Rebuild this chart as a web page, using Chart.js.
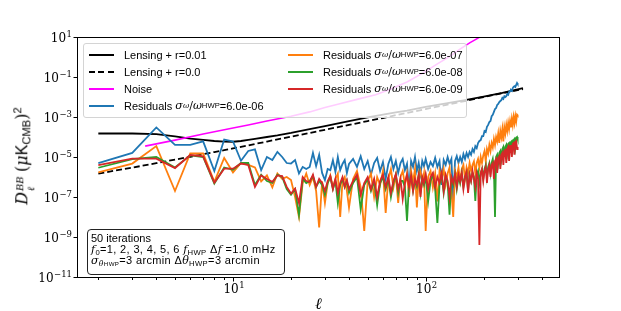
<!DOCTYPE html>
<html>
<head>
<meta charset="utf-8">
<script src="https://cdn.jsdelivr.net/npm/chart.js@4.4.0/dist/chart.umd.min.js"></script>
<style>
  body { margin: 0; background: #fff; }
  #wrap { position: relative; width: 621px; height: 311px; overflow: hidden; }
  #chart { position: absolute; left: 0; top: 0; }
  .math { font-family: "DejaVu Serif", serif; font-style: italic; }
  .legend {
    position: absolute; left: 83px; top: 43px; width: 382px; height: 73px;
    background: rgba(255,255,255,0.8); border: 1px solid #d4d4d4; border-radius: 3px;
    font-family: "Liberation Sans", sans-serif; font-size: 11px; color: #000;
  }
  .legend .item { position: absolute; height: 17px; display: flex; align-items: center; white-space: nowrap; }
  .legend .h { display: inline-block; width: 25px; height: 2px; margin-right: 10px; }
  sub { font-size: 0.7em; vertical-align: -0.3em; line-height: 0; }
  sup { font-size: 0.7em; vertical-align: 0.5em; line-height: 0; }
  .info {
    position: absolute; left: 87px; top: 229px; width: 193px; height: 41px;
    background: rgba(255,255,255,0.8); border: 1px solid #222; border-radius: 4px;
    font-family: "Liberation Sans", sans-serif; font-size: 11px; line-height: 11px;
    padding: 3px 0 0 3px; white-space: nowrap; color: #000;
  }
  .info .wide { letter-spacing: 0.35px; }
  .ylabel {
    position: absolute; left: 25px; top: 156px; transform: translate(-50%, -50%) rotate(-90deg);
    white-space: nowrap; font-family: "Liberation Sans", sans-serif; font-size: 16px; color: #000;
  }
  .stack { display: inline-flex; flex-direction: column; font-size: 0.62em; line-height: 1.2; vertical-align: 0.45em; margin-left: 1px; }
  .xlabel {
    position: absolute; left: 315px; top: 294px; font-family: "DejaVu Serif", serif;
    font-style: italic; font-size: 16px; color: #000;
  }
</style>
</head>
<body>
<div id="wrap">
  <canvas id="chart" width="621" height="311"></canvas>

  <div class="legend">
    <div class="item" style="left:5px;top:2px"><span class="h" style="background:#000"></span>Lensing + r=0.01</div>
    <div class="item" style="left:5px;top:19px"><span class="h" style="background:repeating-linear-gradient(90deg,#000 0 6px,transparent 6px 9.5px)"></span>Lensing + r=0.0</div>
    <div class="item" style="left:5px;top:36px"><span class="h" style="background:#ff00ff"></span>Noise</div>
    <div class="item" style="left:5px;top:53px"><span class="h" style="background:#1f77b4"></span>Residuals&nbsp;<span class="math">σ</span><sub class="math">ω</sub><span class="math" style="font-style:normal">/</span><span class="math">ω</span><sub>HWP</sub>=6.0e-06</div>
    <div class="item" style="left:204px;top:2px"><span class="h" style="background:#ff7f0e"></span>Residuals&nbsp;<span class="math">σ</span><sub class="math">ω</sub><span class="math" style="font-style:normal">/</span><span class="math">ω</span><sub>HWP</sub>=6.0e-07</div>
    <div class="item" style="left:204px;top:19px"><span class="h" style="background:#2ca02c"></span>Residuals&nbsp;<span class="math">σ</span><sub class="math">ω</sub><span class="math" style="font-style:normal">/</span><span class="math">ω</span><sub>HWP</sub>=6.0e-08</div>
    <div class="item" style="left:204px;top:36px"><span class="h" style="background:#d62728"></span>Residuals&nbsp;<span class="math">σ</span><sub class="math">ω</sub><span class="math" style="font-style:normal">/</span><span class="math">ω</span><sub>HWP</sub>=6.0e-09</div>
  </div>

  <div class="info">
    <div>50 iterations</div>
    <div class="wide"><span class="math">f</span><sub>0</sub>=1, 2, 3, 4, 5, 6 <span class="math">f</span><sub>HWP</sub> Δ<span class="math">f</span> =1.0 mHz</div>
    <div class="wide"><span class="math">σ</span><sub><span class="math">θ</span><span style="font-size:0.8em">HWP</span></sub>=3 arcmin Δ<span class="math">θ</span><sub>HWP</sub>=3 arcmin</div>
  </div>

  <div class="ylabel"><span class="math">D</span><span class="stack"><span class="math">BB</span><span class="math">ℓ</span></span> <span class="math" style="font-style:normal">(</span><span class="math">μ</span>K<sub>CMB</sub><span class="math" style="font-style:normal">)</span><sup>2</sup></div>
  <div class="xlabel">ℓ</div>
</div>

<script>
// multipoles of the residual spectra
const ells = [2,3,4,5,6,7,8,9,10,11,12,13,14,15,16,17,18,19,20,21,22,23,24,25,26,27,28,29,30,31,32,33,34,35,36,37,38,39,40,
  42,44,46,48,50,52,54,56,58,60,62,64,66,68,70,72,74,76,78,80,82,84,86,88,90,92,94,96,98,100,
  103,106,109,112,115,118,121,124,127,130,133,136,139,142,145,148,151,154,157,160,163,166,169,172,175,178,181,184,187,190,
  193,196,199,202,205,208,211,214,217,220,223,226,229,232,235,238,241,244,247,250,253,256,259,262,265,268,271,274,277,280,
  283,286,289,292,295,298,300];

// residuals sigma_w/w_HWP = 6.0e-06
const resid6 = [5e-6,1.6e-5,3e-4,4e-5,4e-5,6e-5,2e-6,7.5e-5,6e-5,6.5e-6,2e-5,2.4e-5,2.2e-6,1e-5,7e-6,1.8e-5,1e-5,5e-6,4.7e-6,7e-6,
  1.5e-6,3.2e-6,2.5e-6,3.2e-6,1.6e-5,3.5e-6,1.3e-5,1.6e-6,7e-7,2.5e-6,2.2e-6,7e-6,1.8e-6,1e-5,2.2e-6,4.5e-6,7e-6,1.6e-6,4.5e-6,
  8e-6,3.2e-6,1.1e-5,2.5e-6,6.3e-6,1.3e-6,5e-6,9e-6,2e-6,5.6e-6,8e-7,4.5e-6,1e-5,2.5e-6,6.3e-6,1.6e-6,5e-6,8e-6,2.2e-6,4.5e-6,
  2.5e-7,6.3e-6,3.2e-6,1e-5,2e-6,5e-6,1.4e-6,6.3e-6,3.5e-6,8e-6,
  2.5e-6,5.6e-6,3.5e-6,9e-6,3.2e-6,6.3e-6,4e-7,7e-6,4e-6,1e-5,4.5e-6,8e-6,6e-8,6.3e-6,1.1e-5,5e-6,1e-5,5.6e-6,1.4e-5,8e-6,
  1.6e-5,1e-5,1.8e-5,1.3e-5,2.5e-5,1.8e-5,3.5e-5,2.8e-5,5e-5,6.3e-5,
  7e-5,1.1e-4,1.1e-4,2e-4,1.8e-4,3.2e-4,4e-4,5.6e-4,6.3e-4,1.1e-3,1.3e-3,1.8e-3,2.5e-3,2.8e-3,4e-3,4.5e-3,5.6e-3,6.3e-3,7e-3,9e-3,
  8e-3,1.1e-2,1e-2,1.1e-2,1.4e-2,1.3e-2,1.8e-2,2e-2,2.2e-2,2e-2,
  2.8e-2,3.2e-2,3.5e-2,3.2e-2,4e-2,5e-2,4.5e-2];

// residuals sigma_w/w_HWP = 6.0e-07
const resid7 = [1.7e-6,4.7e-6,3.5e-5,2e-7,1.5e-5,1.5e-5,5.7e-7,9e-6,1.7e-6,5e-6,4e-6,3e-6,6e-7,1.2e-6,3e-7,1.5e-6,8e-7,1e-6,7e-7,1e-7,
  1e-8,5e-7,1.5e-6,4e-7,1e-6,2e-7,3e-9,6e-7,5e-8,5e-7,1.2e-6,3e-7,8e-7,1.5e-6,1e-8,6e-7,1e-6,2e-7,3e-8,
  8e-7,2e-6,3e-7,2e-9,6e-7,1.5e-6,1e-7,1e-6,4e-7,2e-6,1.6e-8,8e-7,2.5e-6,3e-7,1.2e-6,5e-8,1e-6,2e-6,4e-7,1.5e-6,
  1e-7,2e-6,6e-7,2.5e-6,3e-8,1e-6,2e-6,5e-7,1.5e-6,2e-9,
  1e-6,2e-6,3e-7,1.5e-6,6e-8,2e-6,8e-7,2.5e-6,4e-7,1.5e-6,3e-6,2e-7,1e-8,2e-6,1e-6,3e-6,6e-7,2.5e-6,4e-6,8e-7,
  3e-6,1.5e-6,5e-6,2e-6,4e-6,6e-6,1.5e-6,5e-6,8e-6,3e-6,
  1e-5,5e-6,1.2e-5,2e-5,6e-6,2.5e-5,1.5e-5,4e-5,2e-5,5e-5,3e-5,8e-5,4e-5,1e-4,6e-5,1.5e-4,5e-5,2e-4,1e-4,2.5e-4,
  6e-5,3e-4,1.5e-4,4e-4,2e-4,5e-4,2.5e-4,6e-4,3e-4,8e-4,
  4e-4,1e-3,5e-4,1.1e-3,6e-4,1.3e-3,1.2e-3];

// residuals sigma_w/w_HWP = 6.0e-08
const resid8 = [2.9e-6,7.8e-6,1e-5,3e-6,1.2e-5,1e-5,4.7e-7,3e-6,2.3e-6,5e-6,5e-6,4e-7,1.3e-6,6.3e-7,5e-7,1.3e-6,1e-6,2.5e-7,1.3e-7,2.5e-7,
  1.3e-8,8e-7,5e-7,6.3e-7,1.1e-6,3.2e-7,6.3e-7,4e-7,1.3e-7,5e-7,1e-6,2.5e-7,6.3e-7,5e-8,4e-7,8e-7,3.2e-7,6.3e-7,1.6e-7,
  5e-7,1e-6,2.5e-8,4e-7,8e-7,2e-7,6.3e-7,4e-8,5e-7,1e-6,2.5e-7,8e-7,1e-7,5e-7,1.3e-6,1.6e-7,6.3e-7,6.3e-7,3.2e-7,6.3e-9,
  5e-7,1e-6,2e-7,6.3e-7,3.2e-7,1.3e-6,1.6e-7,8e-7,4e-7,1e-6,
  6.3e-8,6.3e-7,1.3e-6,2.5e-7,5e-9,4e-7,1.3e-6,1.6e-7,1e-6,5e-7,1.3e-8,8e-7,4e-7,1.3e-6,2.5e-7,1e-6,5e-7,1.6e-6,3.2e-7,1e-6,
  1.6e-6,2e-7,1.3e-6,6.3e-7,1.6e-6,1e-6,6.3e-8,1.3e-6,2e-6,5e-7,
  1.6e-6,2.5e-6,8e-7,2.5e-6,4e-6,1e-6,3.2e-6,5e-6,1.6e-6,5e-6,8e-6,2.5e-6,1e-8,1e-5,1.3e-5,5e-6,1.6e-5,2e-5,8e-6,2.5e-5,
  3.2e-5,1e-5,3.2e-5,4e-5,1.6e-5,4.5e-5,5e-5,2e-5,5.6e-5,6.3e-5,
  2.5e-5,7e-5,8e-5,3.2e-5,9e-5,1e-4,8e-5];

// residuals sigma_w/w_HWP = 6.0e-09
const resid9 = [3.9e-6,8.3e-6,8.3e-6,2.8e-6,1.26e-5,1.07e-5,5.2e-7,2.6e-6,2.6e-6,4.7e-6,4e-6,3.2e-7,1.2e-6,8e-7,5.7e-7,1.2e-6,1.1e-6,3.2e-7,1.5e-7,2.6e-7,
  5e-8,1e-6,6.3e-7,5.7e-7,1.3e-6,3.2e-7,8e-7,5e-7,2e-7,6.3e-7,1.1e-6,2.5e-7,8e-7,1.6e-7,5e-7,1e-6,3.2e-7,7e-7,2.5e-7,
  6.3e-7,1.3e-6,1.3e-7,5e-7,1e-6,2.5e-7,8e-7,1e-7,6.3e-7,1.3e-6,3.2e-7,1e-6,1.6e-7,6.3e-7,1.4e-6,2.5e-7,8e-7,8e-8,5e-7,1.3e-6,
  3.2e-7,1.1e-6,2e-7,8e-7,4e-7,1.3e-6,1e-7,1e-6,5e-7,1.4e-6,
  2.5e-7,1e-6,1.6e-6,3.2e-7,1e-6,5e-7,1.6e-6,2e-7,1.3e-6,6.3e-7,1e-7,1e-6,5e-7,1.4e-6,3.2e-7,1.3e-6,6.3e-7,1.6e-6,2.5e-7,1e-6,
  1.8e-6,1.6e-7,1.3e-6,6.3e-7,2e-6,8e-7,3.2e-7,1.6e-6,8e-7,4e-10,
  1.6e-6,2.5e-6,6.3e-7,2e-6,3.2e-6,5e-7,2.5e-6,4e-6,1e-6,4e-6,5e-6,8e-7,6.3e-6,8e-6,1.6e-6,9e-6,1.1e-5,2.5e-6,1.3e-5,1.6e-5,
  4e-6,2e-5,2.2e-5,5e-6,2.5e-5,3.2e-5,6.3e-6,3.5e-5,4e-5,1e-5,
  4.5e-5,5e-5,1.3e-5,5.6e-5,6.3e-5,2.5e-5,3.2e-5];

// lensing B-modes
const lensEll = [2,3,4,5,6,7,8,9,10,11,12,13,15,17,20,25,30,40,50,60,70,80,100,130,160,200,250,300,320];
const lensR001 = [1.5e-4,1.5e-4,1.38e-4,1.07e-4,8.3e-5,7.1e-5,6.3e-5,5.9e-5,5.8e-5,6.3e-5,7.2e-5,8.1e-5,1e-4,1.2e-4,1.6e-4,
  2.5e-4,3.5e-4,6.3e-4,9.5e-4,1.3e-3,1.7e-3,2.1e-3,3.2e-3,5e-3,7e-3,1.05e-2,1.6e-2,2.4e-2,2.8e-2];
const lensR0 = [1.48e-6,2.95e-6,4.9e-6,7.4e-6,1.03e-5,1.38e-5,1.77e-5,2.2e-5,2.7e-5,3.2e-5,3.8e-5,4.5e-5,5.9e-5,7.6e-5,1.03e-4,
  1.6e-4,2.3e-4,4e-4,6.3e-4,8.9e-4,1.23e-3,1.6e-3,2.5e-3,4.2e-3,6.3e-3,1e-2,1.55e-2,2.2e-2,2.5e-2];

// noise spectrum
const noiseEll = [3.5,5,7,10,12,15,20,25,30,35,44,55,65,80,97,115,134,150,170,185,199,215];
const noise = [3.5e-5,7e-5,1.4e-4,2.8e-4,4e-4,6.3e-4,1.1e-3,1.8e-3,3e-3,4.3e-3,7.6e-3,1.3e-2,2.4e-2,5.6e-2,0.16,0.45,1.1,2.4,5.2,8.3,12.6,25];

// axis ticks
const xMajor = [10, 100];
const xMajorExp = ['1', '2'];
const xMinor = [2,3,4,5,6,7,8,9,20,30,40,50,60,70,80,90,200,300,400];
const yMajor = [1e1, 1e-1, 1e-3, 1e-5, 1e-7, 1e-9, 1e-11];
const yMajorExp = ['1', '\u22121', '\u22123', '\u22125', '\u22127', '\u22129', '\u221211'];

function pts(xs, ys) {
  return xs.map((x, i) => ({ x: x, y: ys[i] }));
}

function drawPow(ctx, x, y, exp, align) {
  ctx.font = '12px "DejaVu Serif", serif';
  const wb = ctx.measureText('10').width;
  ctx.font = '8.5px "DejaVu Serif", serif';
  const we = ctx.measureText(exp).width;
  const w = wb + we + 0.5;
  let x0 = align === 'right' ? x - w : x - w / 2;
  ctx.font = '12px "DejaVu Serif", serif';
  ctx.fillText('10', x0, y);
  ctx.font = '8.5px "DejaVu Serif", serif';
  ctx.fillText(exp, x0 + wb + 0.5, y - 5.5);
}

const axisDecor = {
  id: 'axisDecor',
  afterDraw(chart) {
    const ctx = chart.ctx;
    const a = chart.chartArea;
    const xs = chart.scales.x, ys = chart.scales.y;
    ctx.save();
    ctx.strokeStyle = '#000';
    ctx.fillStyle = '#000';
    ctx.lineWidth = 1;
    ctx.strokeRect(Math.round(a.left) + 0.5, Math.round(a.top) + 0.5,
      Math.round(a.right - a.left), Math.round(a.bottom - a.top));
    const bot = Math.round(a.bottom) + 0.5;
    const lft = Math.round(a.left) + 0.5;
    ctx.beginPath();
    xMajor.forEach(v => {
      const p = Math.round(xs.getPixelForValue(v)) + 0.5;
      ctx.moveTo(p, bot); ctx.lineTo(p, bot + 4);
    });
    xMinor.forEach(v => {
      const p = Math.round(xs.getPixelForValue(v)) + 0.5;
      ctx.moveTo(p, bot); ctx.lineTo(p, bot + 2.5);
    });
    yMajor.forEach(v => {
      const p = Math.round(ys.getPixelForValue(v)) + 0.5;
      ctx.moveTo(lft, p); ctx.lineTo(lft - 4, p);
    });
    ctx.stroke();
    ctx.textBaseline = 'alphabetic';
    xMajor.forEach((v, i) => {
      drawPow(ctx, xs.getPixelForValue(v) + 1, a.bottom + 16, xMajorExp[i], 'center');
    });
    yMajor.forEach((v, i) => {
      drawPow(ctx, a.left - 5, ys.getPixelForValue(v) + 5, yMajorExp[i], 'right');
    });
    ctx.restore();
  }
};

const line = (label, data, color, width, order, dash) => ({
  label: label,
  data: data,
  borderColor: color,
  borderWidth: width,
  borderDash: dash || [],
  pointRadius: 0,
  fill: false,
  tension: 0,
  order: order
});

new Chart(document.getElementById('chart'), {
  type: 'line',
  data: {
    datasets: [
      line('Residuals 6.0e-09', pts(ells, resid9), '#d62728', 1.8, 0),
      line('Residuals 6.0e-08', pts(ells, resid8), '#2ca02c', 1.8, 1),
      line('Residuals 6.0e-07', pts(ells, resid7), '#ff7f0e', 1.8, 2),
      line('Residuals 6.0e-06', pts(ells, resid6), '#1f77b4', 1.8, 3),
      line('Noise', pts(noiseEll, noise), '#ff00ff', 1.6, 4),
      line('Lensing + r=0.0', pts(lensEll, lensR0), '#000', 1.8, 5, [6, 3]),
      line('Lensing + r=0.01', pts(lensEll, lensR001), '#000', 1.8, 6)
    ]
  },
  options: {
    responsive: false,
    animation: false,
    devicePixelRatio: 1,
    layout: { padding: { top: 37, right: 62, left: 0, bottom: 0 } },
    plugins: { legend: { display: false }, tooltip: { enabled: false } },
    scales: {
      x: {
        type: 'logarithmic', min: 1.55, max: 492,
        grid: { display: false }, border: { display: false },
        ticks: { display: false },
        afterFit: s => { s.height = 34; }
      },
      y: {
        type: 'logarithmic', min: 1e-11, max: 10,
        grid: { display: false }, border: { display: false },
        ticks: { display: false },
        afterFit: s => { s.width = 77; }
      }
    }
  },
  plugins: [axisDecor]
});
</script>
</body>
</html>
